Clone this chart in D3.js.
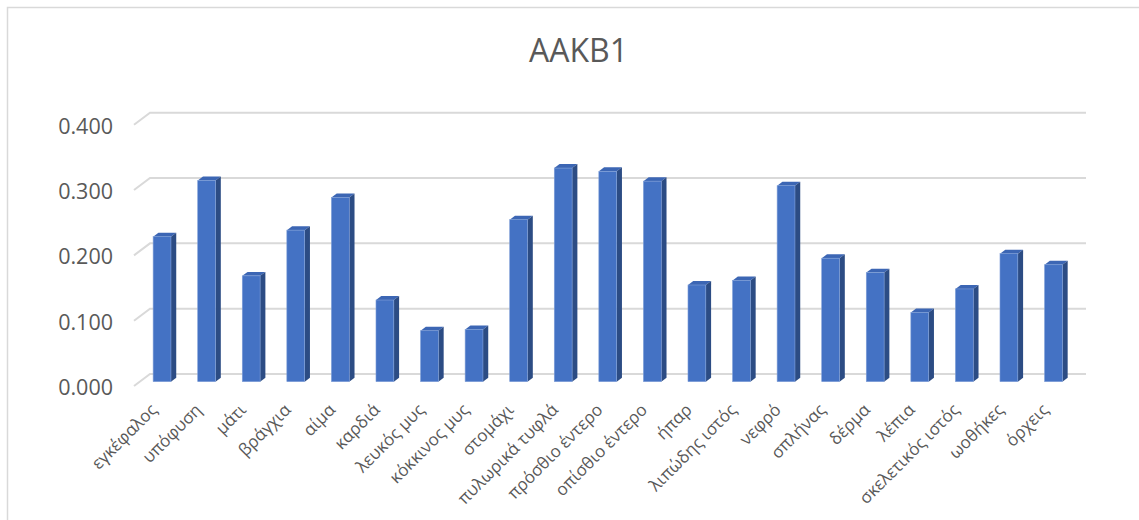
<!DOCTYPE html>
<html>
<head>
<meta charset="utf-8">
<script src="https://cdn.jsdelivr.net/npm/d3@7"></script>
<style>
  body { margin: 0; background: #fff; }
  svg { display: block; font-family: "Open Sans", sans-serif; }
</style>
</head>
<body>
<svg id="chart" width="1139" height="520"></svg>
<script>
var categories = ["εγκέφαλος", "υπόφυση", "μάτι", "βράγχια", "αίμα", "καρδιά", "λευκός μυς",
	"κόκκινος μυς", "στομάχι", "πυλωρικά τυφλά", "πρόσθιο έντερο", "οπίσθιο έντερο", "ήπαρ",
	"λιπώδης ιστός", "νεφρό", "σπλήνας", "δέρμα", "λέπια", "σκελετικός ιστός", "ωοθήκες", "όρχεις"];
var values = [0.222, 0.308, 0.162, 0.232, 0.282, 0.125, 0.078, 0.080, 0.248, 0.327, 0.322,
	0.307, 0.148, 0.155, 0.300, 0.189, 0.167, 0.106, 0.142, 0.196, 0.179];
var yTicks = [0, 0.1, 0.2, 0.3, 0.4];
var title = "AAKB1";

var svg = d3.select("#chart");
var textColour = "#595959";

// oblique "3d" offset: depth 0 = back wall, 1 = front edge of floor
var depthX = -16, depthY = 12;
var dFront = 0.64, dBack = 0.31;

var x = d3.scaleBand().domain(categories).range([150, 1086]);
var y = d3.scaleLinear().domain([0, 0.4]).range([374, 112.7]);
var barW = x.bandwidth() * 0.4;

// chart border (only left/top visible in the frame)
svg.append("rect")
	.attr("x", 7.5).attr("y", 7.5)
	.attr("width", 1200).attr("height", 600)
	.attr("fill", "none")
	.attr("stroke", "#d9d9d9")
	.attr("stroke-width", 1.5);

svg.append("text")
	.attr("x", 578.5).attr("y", 62)
	.attr("text-anchor", "middle")
	.attr("fill", textColour)
	.style("font-size", "32px")
	.text(title);

// gridlines: back wall + left slant
var grid = svg.append("g").attr("stroke", "#d9d9d9").attr("stroke-width", 2).attr("fill", "none");
grid.selectAll("path")
	.data(yTicks)
	.enter()
  .append("path")
	.attr("d", function (d) {
		var yy = y(d);
		return "M" + (x.range()[0] + depthX) + "," + (yy + depthY) +
			"L" + x.range()[0] + "," + yy +
			"L" + x.range()[1] + "," + yy;
	});

// y axis labels at the front plane
var yFront = y.copy().range(y.range().map(function (r) { return r + depthY + 1.5; }));
var yAxis = svg.append("g")
	.attr("transform", "translate(" + (x.range()[0] + depthX - 8) + ",0)")
	.call(d3.axisLeft(yFront).tickValues(yTicks).tickSize(0).tickPadding(13).tickFormat(d3.format(".3f")));
yAxis.select(".domain").remove();
yAxis.selectAll("text")
	.attr("fill", textColour)
	.style("font-size", "21.5px")
	.style("font-family", "'Open Sans', sans-serif");

// bars
var bars = svg.append("g").selectAll("g")
	.data(categories.map(function (c, i) { return { name: c, value: values[i] }; }))
	.enter()
  .append("g");

function pt(px, py, d) { return (px + depthX * d) + "," + (py + depthY * d); }

bars.append("path") // top face
	.attr("fill", "#3c66b4")
	.attr("d", function (d) {
		var l = x(d.name) + x.bandwidth() / 2 - barW / 2, r = l + barW, t = y(d.value);
		return "M" + pt(l, t, dFront) + "L" + pt(l, t, dBack) + "L" + pt(r, t, dBack) + "L" + pt(r, t, dFront) + "Z";
	});
bars.append("path") // side face
	.attr("fill", "#2c4c84")
	.attr("d", function (d) {
		var l = x(d.name) + x.bandwidth() / 2 - barW / 2, r = l + barW, t = y(d.value), b = y(0);
		return "M" + pt(r, t, dFront) + "L" + pt(r, t, dBack) + "L" + pt(r, b, dBack) + "L" + pt(r, b, dFront) + "Z";
	});
bars.append("rect") // front face
	.attr("fill", "#4472c4")
	.attr("stroke", "#7f9fd8")
	.attr("stroke-width", 0.6)
	.attr("x", function (d) { return x(d.name) + x.bandwidth() / 2 - barW / 2 + depthX * dFront; })
	.attr("y", function (d) { return y(d.value) + depthY * dFront; })
	.attr("width", barW)
	.attr("height", function (d) { return y(0) - y(d.value); });

// category labels
svg.append("g").selectAll("text")
	.data(categories)
	.enter()
  .append("text")
	.attr("text-anchor", "end")
	.attr("fill", textColour)
	.style("font-size", "17px")
	.attr("transform", function (d) {
		var cx = x(d) + x.bandwidth() / 2 + depthX * dFront - 4;
		return "translate(" + cx + "," + (y(0) + depthY + 25) + ") rotate(-45)";
	})
	.text(function (d) { return d; });
</script>
</body>
</html>
